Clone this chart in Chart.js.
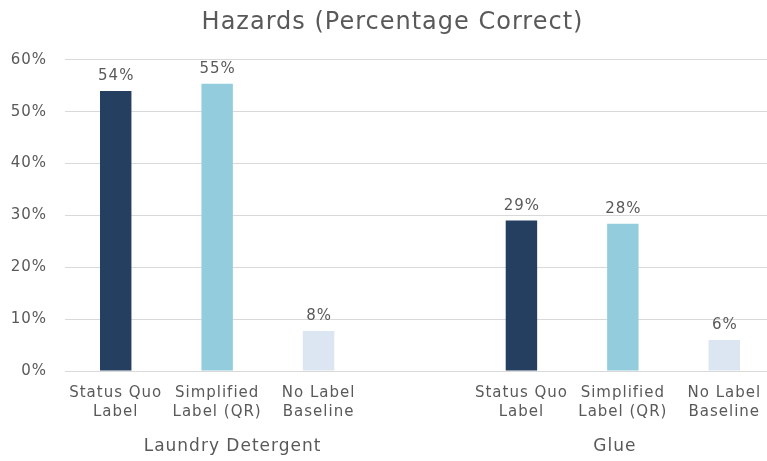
<!DOCTYPE html>
<html>
<head>
<meta charset="utf-8">
<script src="https://cdn.jsdelivr.net/npm/chart.js@4"></script>
<style>
  html, body { margin: 0; padding: 0; background: #fff; overflow: hidden; }
  #wrap { width: 775px; height: 461px; }
</style>
</head>
<body>
<div id="wrap"><canvas id="hazards-chart"></canvas></div>
<script>
// ========== DATA ==========
const labelTypes = [['Status Quo', 'Label'], ['Simplified', 'Label (QR)'], ['No Label', 'Baseline']];
const products = ['Laundry Detergent', 'Glue'];
const laundryValues = [54, 55.4, 7.7];
const glueValues = [29, 28.4, 6];
const yTicks = [0, 10, 20, 30, 40, 50, 60];
const barColors = ['#253F60', '#93CDDD', '#DCE6F2'];

// one empty slot between the two product groups
const categories = [...labelTypes, '', ...labelTypes];
const values = [...laundryValues, null, ...glueValues];
const colors = [...barColors, 'transparent', ...barColors];

// product names sit on a finer 13-slot axis so each lands under its group
const groupLabels = Array(13).fill('');
groupLabels[2] = products[0];
groupLabels[9] = products[1];

const FONT = "'DejaVu Sans', Verdana, sans-serif";
const TEXT = '#595959';

// wider text tracking; canvas state is reset on resize so set it before layout and draw
const tracking = {
    id: 'tracking',
    beforeLayout(chart) { chart.ctx.letterSpacing = '1px'; },
    beforeDraw(chart) { chart.ctx.letterSpacing = '1px'; }
};

// value labels above each bar
const barValueLabels = {
    id: 'barValueLabels',
    afterDatasetsDraw(chart) {
        const ctx = chart.ctx;
        const meta = chart.getDatasetMeta(0);
        ctx.save();
        ctx.font = `15px ${FONT}`;
        ctx.fillStyle = TEXT;
        ctx.textAlign = 'center';
        ctx.textBaseline = 'alphabetic';
        meta.data.forEach((bar, i) => {
            const v = values[i];
            if (v == null) return;
            ctx.fillText(Math.round(v) + '%', bar.x + 0.5, bar.y - 11);
        });
        ctx.restore();
    }
};

new Chart(document.getElementById('hazards-chart'), {
    type: 'bar',
    data: {
        labels: categories,
        datasets: [{
            data: values,
            backgroundColor: colors,
            borderWidth: 0,
            categoryPercentage: 1,
            barPercentage: 0.31
        }]
    },
    options: {
        responsive: true,
        maintainAspectRatio: false,
        animation: false,
        layout: { padding: { left: 10, right: 0, top: 0, bottom: 4 } },
        plugins: {
            legend: { display: false },
            tooltip: { enabled: false },
            title: {
                display: true,
                text: 'Hazards (Percentage Correct)',
                color: TEXT,
                font: { family: FONT, size: 24, weight: 'normal' },
                padding: { top: 8, bottom: 23 }
            }
        },
        scales: {
            x: {
                afterFit: axis => { axis.height = 51; },
                grid: { display: false, drawTicks: false },
                border: { display: true, color: '#D9D9D9' },
                ticks: {
                    color: TEXT,
                    font: { family: FONT, size: 15, lineHeight: 1.27 },
                    maxRotation: 0,
                    autoSkip: false,
                    padding: 13
                }
            },
            group: {
                type: 'category',
                position: 'bottom',
                labels: groupLabels,
                afterFit: axis => { axis.height = 35; },
                grid: { display: false, drawTicks: false },
                border: { display: false },
                ticks: {
                    color: TEXT,
                    font: { family: FONT, size: 17, lineHeight: 1.2 },
                    maxRotation: 0,
                    autoSkip: false,
                    labelOffset: 31,
                    padding: 14
                }
            },
            y: {
                min: 0,
                max: 60,
                afterBuildTicks: axis => { axis.ticks = yTicks.map(v => ({ value: v })); },
                afterFit: axis => { axis.width = 55; },
                grid: { color: '#D9D9D9', drawTicks: false },
                border: { display: false },
                ticks: {
                    color: TEXT,
                    font: { family: FONT, size: 15 },
                    padding: 18,
                    callback: v => v + '%'
                }
            }
        }
    },
    plugins: [tracking, barValueLabels]
});
</script>
</body>
</html>
